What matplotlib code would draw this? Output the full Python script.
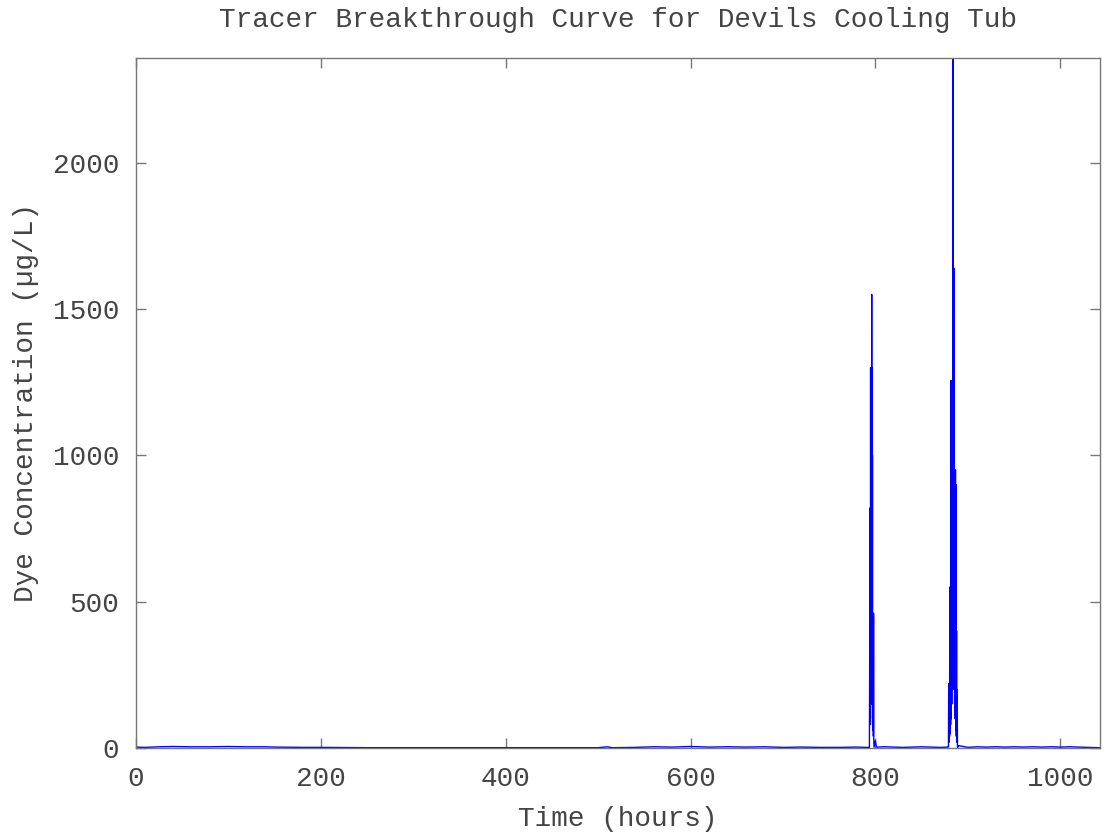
import matplotlib
matplotlib.use("Agg")
import matplotlib.pyplot as plt

# Time (hours) and dye concentration (ug/L)
time_hours = [0, 10, 25, 40, 60, 80, 100, 120, 140, 150, 180, 200, 250, 300, 350,
              400, 450, 500, 510, 515, 540, 560, 580, 600, 620, 640, 660, 680, 700,
              720, 740, 760, 780, 790,
              793.5, 793.8, 794.0, 794.2, 794.4, 794.6, 794.8, 795.0, 795.2, 795.4,
              795.6, 795.8, 796.0, 796.2, 796.4, 796.6, 796.8, 797.0, 797.2, 797.4,
              797.6, 797.8, 798.0, 798.2, 798.5,
              800, 801, 810, 820, 830, 840, 850, 860, 870, 878,
              879.0, 879.3, 879.6, 879.9, 880.2, 880.5, 880.8, 881.1, 881.4, 881.7,
              882.0, 882.3, 882.6, 882.9, 883.2, 883.5, 883.8, 884.0, 884.2, 884.5,
              884.8, 885.1, 885.4, 885.7, 886.0, 886.3, 886.6, 886.9, 887.2, 887.5,
              887.8, 888.1, 888.4, 888.8,
              890, 900, 910, 920, 930, 940, 950, 960, 970, 980, 990, 1000, 1010,
              1020, 1030, 1043]
conc_ugL = [3, 2, 4, 5, 4, 4, 5, 4, 4, 3, 2, 2, 1, 1, 1,
            1, 1, 1, 4, 1, 2, 4, 3, 5, 3, 4, 3, 4, 2,
            3, 2, 2, 3, 2,
            2, 300, 820, 150, 700, 80, 1300, 200, 1300, 150,
            1300, 250, 1550, 200, 1300, 150, 1000, 100, 460, 60,
            460, 40, 460, 30, 3,
            25, 3, 4, 3, 2, 3, 4, 3, 2, 3,
            3, 220, 20, 220, 40, 550, 50, 550, 80, 1255,
            100, 1255, 150, 1200, 200, 1100, 300, 2358, 1640, 200,
            1640, 300, 950, 150, 950, 100, 950, 60, 900, 40,
            400, 20, 200, 2,
            8, 2, 4, 3, 4, 3, 4, 3, 4, 3, 4, 3, 4,
            3, 2, 1]

x_ticks = [0, 200, 400, 600, 800, 1000]
y_ticks = [0, 500, 1000, 1500, 2000]

font = ["Liberation Mono", "DejaVu Sans Mono"]
text_color = "#444444"
frame_color = "#777777"

fig = plt.figure(figsize=(11.05, 8.39), dpi=100)
ax = fig.add_axes([0.123, 0.1085, 0.8725, 0.8224])

ax.plot(time_hours, conc_ugL, color=(0, 0, 1), linewidth=1.0)

ax.set_xlim(0, max(time_hours))
ax.set_ylim(0, max(conc_ugL))
ax.set_xticks(x_ticks)
ax.set_yticks(y_ticks)

for s in ax.spines.values():
    s.set_color(frame_color)
    s.set_linewidth(1.0)

ax.tick_params(direction="in", length=7, width=1, color=frame_color,
               top=True, right=True, labelsize=20, labelcolor=text_color)
ax.tick_params(axis="x", pad=13)
ax.tick_params(axis="y", pad=12)
for lab in ax.get_xticklabels() + ax.get_yticklabels():
    lab.set_family(font)

ax.set_xlabel("Time (hours)", family=font, fontsize=20, color=text_color, labelpad=10)
ax.set_ylabel("Dye Concentration (µg/L)", family=font, fontsize=20, color=text_color, labelpad=10)
ax.set_title("Tracer Breakthrough Curve for Devils Cooling Tub", family=font,
             fontsize=20, color=text_color, pad=22)

fig.savefig("out.png", dpi=100)
